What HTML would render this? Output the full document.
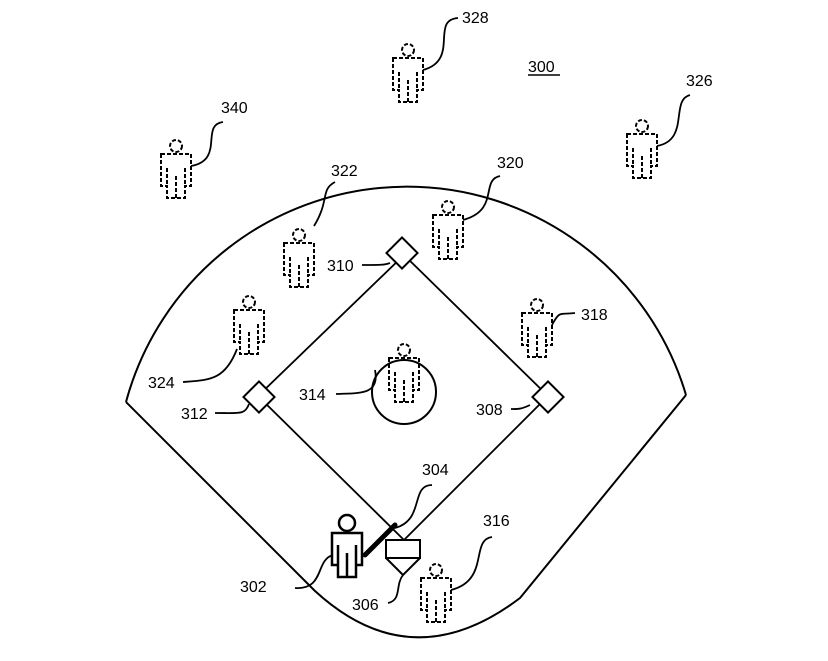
<!DOCTYPE html>
<html><head><style>body{margin:0;background:#fff}svg{display:block}text{font-family:"Liberation Sans",sans-serif;font-size:16px;fill:#000}</style></head>
<body>
<svg width="828" height="661" viewBox="0 0 828 661" xmlns="http://www.w3.org/2000/svg">
<defs>
<g id="p" fill="none" stroke="#000" stroke-width="2" stroke-dasharray="4,2">
<circle cx="0" cy="0" r="6"/>
<path d="M-15,8 H15 V40 H9 V52 H-9 V40 H-15 Z M-9,22 V40 M9,22 V40 M0,30 V52"/>
</g>
<g id="s" fill="#fff" stroke="#000" stroke-width="2.5">
<circle cx="0" cy="0" r="8"/>
<path d="M-15,10 H15 V42 H9 V54 H-9 V42 H-15 Z M-9,22 V42 M9,22 V42 M0,30 V54"/>
</g>
</defs>
<g fill="none" stroke="#000" stroke-width="2">
<path d="M126,402 A291,291 0 0 1 686,395"/>
<path d="M126,402 L315,591 Q412,680 520,598 L686,395"/>
<path d="M404,540 L548,396 L404,255 L258,396 Z" stroke-width="1.8"/>
<circle cx="404" cy="392" r="32"/>
</g>
<g fill="#fff" stroke="#000" stroke-width="2">
<rect x="391" y="242" width="22" height="22" transform="rotate(45 402 253)"/>
<rect x="537" y="386" width="22" height="22" transform="rotate(45 548 397)"/>
<rect x="248" y="386" width="22" height="22" transform="rotate(45 259 397)"/>
<path d="M386,540 H420 V558 H386 Z M386,558 L403,575 L420,558"/>
</g>
<line x1="365" y1="555" x2="395" y2="525" stroke="#000" stroke-width="5" stroke-linecap="round"/>
<use href="#p" x="408" y="50"/>
<use href="#p" x="642" y="126"/>
<use href="#p" x="176" y="146"/>
<use href="#p" x="299" y="235"/>
<use href="#p" x="448" y="207"/>
<use href="#p" x="537" y="305"/>
<use href="#p" x="249" y="302"/>
<use href="#p" x="404" y="350"/>
<use href="#p" x="436" y="570"/>
<use href="#s" x="347" y="523"/>
<g fill="none" stroke="#000" stroke-width="1.8">
<path d="M423,70 C460,60 430,20 458,18"/>
<path d="M657,146 C690,140 670,100 690,95"/>
<path d="M191,166 C225,160 200,125 223,122"/>
<path d="M314,226 C330,200 320,190 335,182"/>
<path d="M463,220 C500,210 480,180 500,176"/>
<path d="M552,325 C560,310 560,315 575,313"/>
<path d="M237,349 C225,380 210,380 183,382"/>
<path d="M375,370 C380,395 360,393 336,394"/>
<path d="M249,404 C245,415 240,413 215,413"/>
<path d="M530,405 C520,410 515,409 511,409"/>
<path d="M390,263 C385,265 380,265 362,265"/>
<path d="M395,528 C425,520 410,485 432,485"/>
<path d="M451,590 C490,580 470,540 492,537"/>
<path d="M333,555 C315,560 325,590 295,588"/>
<path d="M403,575 C395,585 402,600 388,603"/>
</g>
<text x="462" y="23">328</text>
<text x="528" y="72">300</text>
<line x1="528" y1="75" x2="560" y2="75" stroke="#000" stroke-width="1.5"/>
<text x="686" y="86">326</text>
<text x="221" y="113">340</text>
<text x="331" y="176">322</text>
<text x="497" y="168">320</text>
<text x="327" y="271">310</text>
<text x="581" y="320">318</text>
<text x="148" y="388">324</text>
<text x="299" y="400">314</text>
<text x="181" y="419">312</text>
<text x="476" y="415">308</text>
<text x="422" y="475">304</text>
<text x="483" y="526">316</text>
<text x="240" y="592">302</text>
<text x="352" y="610">306</text>
</svg>
</body></html>
